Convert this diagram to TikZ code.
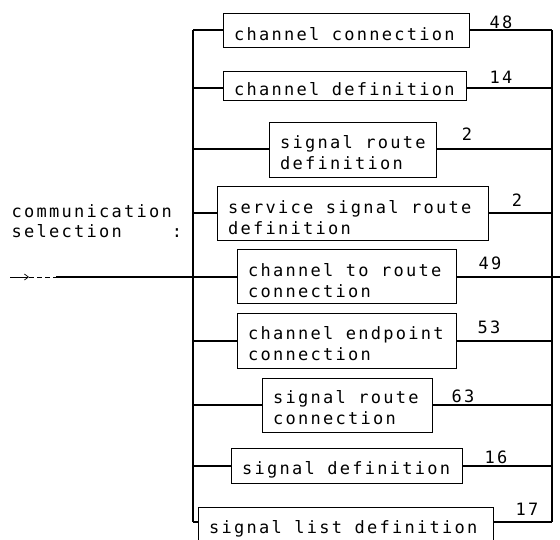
\documentclass[tikz,border=0pt]{standalone}
\usepackage{fontspec}
\usetikzlibrary{arrows.meta}
\newfontfamily\plotfont[LetterSpace=13.4]{DejaVu Sans Mono}
\newcommand\plotsize{\plotfont\fontsize{17}{20.6}\selectfont\spaceskip=12.5pt\xspaceskip=12.5pt\relax}
\newcommand\ind{\hspace*{10.5pt}}
\begin{document}
\begin{tikzpicture}[x=1pt,y=-1pt,line width=1.1pt,
  sbox/.style={draw,rectangle,anchor=north west,inner sep=0pt,align=left,
    font=\plotsize,execute at begin node={\spaceskip=12.5pt\xspaceskip=12.5pt\relax}},
  num/.style={inner sep=0pt,font=\plotsize},
  lbl/.style={inner sep=0pt,anchor=north west,align=left,text height=0pt,
    font=\plotsize},
  thinline/.style={line width=0.7pt}]
\clip (0,0) rectangle (560,539);
% boxes
\node[sbox,text width=246pt,text height=27pt,text depth=7pt] (b1) at (223,13) {\ind channel connection};
\node[sbox,text width=243pt,text height=24pt,text depth=5pt] (b2) at (223,71) {\ind channel definition};
\node[sbox,text width=167pt,text height=26pt,text depth=29pt] (b3) at (269,122) {\ind signal route\\\ind definition};
\node[sbox,text width=271pt,text height=27pt,text depth=27pt] (b4) at (217,186) {\ind service signal route\\\ind definition};
\node[sbox,text width=219pt,text height=27pt,text depth=27pt] (b5) at (237,249) {\ind channel to route\\\ind connection};
\node[sbox,text width=219pt,text height=26pt,text depth=29pt] (b6) at (237,313) {\ind channel endpoint\\\ind connection};
\node[sbox,text width=170pt,text height=25pt,text depth=29pt] (b7) at (262,378) {\ind signal route\\\ind connection};
\node[sbox,text width=231pt,text height=26pt,text depth=9pt] (b8) at (231,448) {\ind signal definition};
\node[sbox,text width=295pt,text height=26pt,text depth=15pt] (b9) at (198,507) {\ind signal list definition};
% numbers
\node[num] (n1) at (501,22) {48};
\node[num] (n2) at (501,77) {14};
\node[num] (n3) at (467,134) {2};
\node[num] (n4) at (517,200) {2};
\node[num] (n5) at (490,263) {49};
\node[num] (n6) at (489,327) {53};
\node[num] (n7) at (463,396) {63};
\node[num] (n8) at (496,457) {16};
\node[num] (n9) at (527,509) {17};
% label
\node[lbl] (sel) at (11,237) {communication\\selection~~~~:};
% bus coordinates
\coordinate (L1) at (193,30);  \coordinate (R1) at (552,30);
\coordinate (L2) at (193,88);  \coordinate (R2) at (552,88);
\coordinate (L3) at (193,149); \coordinate (R3) at (552,149);
\coordinate (L4) at (193,213); \coordinate (R4) at (552,213);
\coordinate (L5) at (193,277); \coordinate (R5) at (552,277);
\coordinate (L6) at (193,341); \coordinate (R6) at (552,341);
\coordinate (L7) at (193,405); \coordinate (R7) at (552,405);
\coordinate (L8) at (193,466); \coordinate (R8) at (552,466);
\coordinate (L9) at (193,522); \coordinate (R9) at (552,522);
\coordinate (S) at (10,277);
\coordinate (A) at (29,277);
\coordinate (D) at (56,277);
\coordinate (E) at (560,277);
% buses
\draw (L1) -- (L9);
\draw (R1) -- (R9);
\foreach \i in {1,2,3,4,6,7,8,9}{
  \draw (L\i) -- (L\i -| b\i.west);
  \draw (b\i.east |- R\i) -- (R\i);
}
% main line
\draw[thinline,-{Straight Barb[length=4pt,width=6pt]}] (S) -- (A);
\draw[thinline,dash pattern=on 5pt off 3pt] (A) -- (D);
\draw (D) -- (D -| b5.west);
\draw (b5.east |- E) -- (E);
\end{tikzpicture}
\end{document}
